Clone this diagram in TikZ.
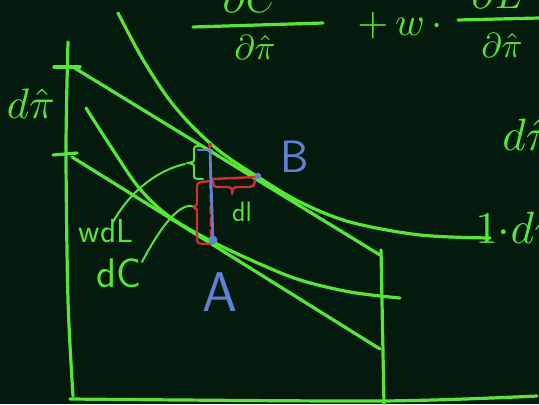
\documentclass[tikz,border=0pt]{standalone}
\usepackage{graphicx}
\definecolor{bg}{RGB}{3,26,12}
\definecolor{gr}{RGB}{85,230,55}
\definecolor{bl}{RGB}{95,130,215}
\definecolor{rd}{RGB}{210,45,50}
\begin{document}
\begin{tikzpicture}[x=0.75pt,y=-0.75pt,
  gline/.style={draw=gr,line width=2.4pt,line cap=round,line join=round},
  thin/.style={draw=gr,line width=1.5pt,line cap=round,line join=round},
  rline/.style={draw=rd,line width=1.8pt,line cap=round,line join=round},
  bline/.style={draw=bl,line width=2pt,line cap=round,line join=round},
  glab/.style={text=gr,inner sep=0pt,font=\sffamily},
  blab/.style={text=bl,inner sep=0pt,font=\sffamily}]
\fill[bg] (0,0) rectangle (539,404);
\useasboundingbox (0,0) rectangle (539,404);
\clip (0,0) rectangle (539,404);

% axes
\draw[gline] plot[smooth] coordinates {(68,42) (66,150) (68,300) (73,396)};
\draw[gline] plot[smooth] coordinates {(70,399) (380,401) (537,396)};
\draw[gline] (381,250) -- (384,404);
% ticks
\draw[gline] (54,67) -- (80,67);
\draw[gline] (53,155) -- (77,153);

% budget lines
\coordinate (u0) at (73,67);
\coordinate (u1) at (380,255);
\coordinate (l0) at (72,157);
\coordinate (l1) at (380,349);
\draw[gline] (u0) -- (u1);
\draw[gline] (l0) -- (l1);

% indifference curves
\draw[gline] plot[smooth,tension=0.55] coordinates {(118,13) (142,58) (168,98) (193,127) (222,153) (258,177) (300,202) (350,222) (420,235) (490,238)};
\draw[gline] plot[smooth,tension=0.55] coordinates {(86,108) (113,150) (140,189) (170,217) (213,242) (260,264) (300,280) (350,292) (400,298)};

% red annotations
\draw[rline,dashed,dash pattern=on 6pt off 3pt] (210,146) -- (211,240);
\fill[rd] (210,145) circle (2.2);
\draw[rline] (212,179) -- (256,177);
\draw[rline] (213,181) .. controls (214,187) .. (220,187) -- (228,187) .. controls (232,188) .. (232,194)
  .. controls (233,188) .. (237,187) -- (249,187) .. controls (254,186) .. (255,180);
\draw[rline] (211,181) -- (202,182) .. controls (197,183) .. (197,190) -- (197,201)
  .. controls (197,205) .. (193,207) .. controls (197,209) .. (197,214) -- (197,237)
  .. controls (197,243) .. (203,244) -- (211,244);

% blue annotations
\draw[bline] (210,150) -- (213,240);
\draw[bline] (198,150) -- (212,150);
\fill[bl] (213,240) circle (4.5);
\fill[bl] (258,176) circle (3.2);

% green brace and leaders
\draw[thin] (201,146) .. controls (194,146) .. (194,152) -- (194,158) .. controls (194,162) .. (187,163)
  .. controls (194,164) .. (194,168) -- (194,174) .. controls (194,179) .. (203,179);
\draw[thin] (185,164) .. controls (150,172) and (125,200) .. (113,222);
\draw[thin] (192,206) .. controls (178,204) and (160,228) .. (142,262);

% labels
\node[blab,font=\sffamily\fontsize{42}{42}\selectfont] (A) at (220,292) {A};
\node[blab,font=\sffamily\fontsize{34}{34}\selectfont] (B) at (295,157) {B};
\node[glab,font=\sffamily\fontsize{21}{21}\selectfont] (dL) at (242,212) {dl};
\node[glab,font=\sffamily\fontsize{25}{25}\selectfont] (wdL) at (106,231) {wdL};
\node[glab,font=\sffamily\fontsize{31}{31}\selectfont] (dC) at (119,273) {dC};
\node[glab] (dpiL) at (31,104) {\scalebox{3.2}{$d\hat{\pi}$}};
\node[glab,anchor=west] (dpiR) at (502,135) {\scalebox{3.4}{$d\hat{\pi}$}};
\node[glab,anchor=west] (one) at (475,228) {\scalebox{3.4}{$1{\cdot}d\hat{\pi}$}};

% top formula
\draw[gline] (193,27) -- (323,23);
\draw[gline] (458,20) -- (539,18);
\node[glab,anchor=base] (n1) at (250,12) {\scalebox{3}{$\partial C$}};
\node[glab] (d1) at (255,47) {\scalebox{2.6}{$\partial\hat{\pi}$}};
\node[glab] (plus) at (400,25) {\scalebox{3}{$+\,w\,\cdot$}};
\node[glab,anchor=base] (n2) at (497,8) {\scalebox{3}{$\partial L$}};
\node[glab] (d2) at (502,45) {\scalebox{2.6}{$\partial\hat{\pi}$}};
\end{tikzpicture}
\end{document}
